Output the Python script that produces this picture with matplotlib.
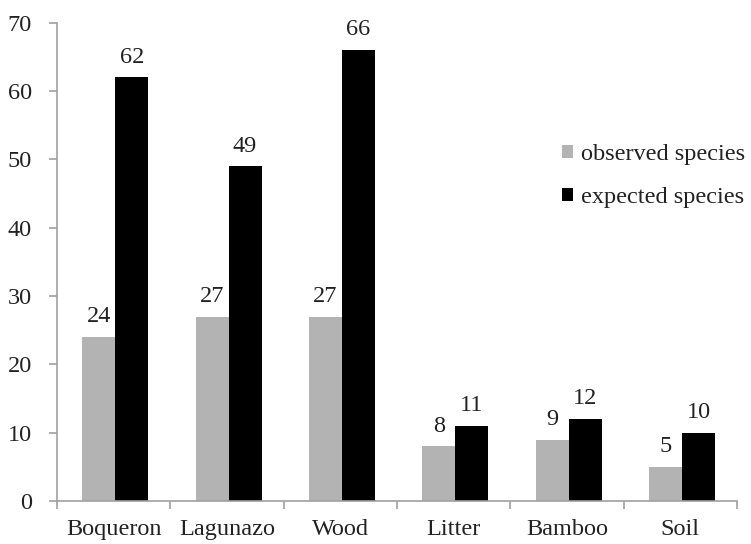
import matplotlib.pyplot as plt
import numpy as np

# data
sites = ['Boqueron', 'Lagunazo', 'Wood', 'Litter', 'Bamboo', 'Soil']
observed = [24, 27, 27, 8, 9, 5]
expected = [62, 49, 66, 11, 12, 10]

plt.rcParams['font.family'] = ['Liberation Serif', 'DejaVu Serif']
fs = 17.5

fig = plt.figure(figsize=(7.51, 5.44), dpi=100)
ax = fig.add_axes([0.0759, 0.079, 0.9054, 0.879])

x = np.arange(len(sites))
w = 0.29
b1 = ax.bar(x - w / 2 + 0.015, observed, w, color='#b3b3b3', label='observed species')
b2 = ax.bar(x + w / 2 + 0.015, expected, w, color='black', label='expected species')

for bars in (b1, b2):
    for r in bars:
        ax.annotate(f'{int(r.get_height())}', (r.get_x() + r.get_width() / 2, r.get_height()),
                    xytext=(0, 7), textcoords='offset points', ha='center', va='bottom',
                    fontsize=fs, color='#222222')

ax.set_xlim(-0.5, len(sites) - 0.5)
ax.set_ylim(0, 70)
ax.set_yticks(range(0, 71, 10))
ax.set_xticks(x)
ax.set_xticklabels(sites, fontsize=fs, color='#222222')
ax.set_xticks(np.arange(-0.5, len(sites)), minor=True)
ax.tick_params(axis='x', which='major', length=0, pad=13)
ax.tick_params(axis='x', which='minor', length=6, color='#a0a0a0', width=1.2)
ax.tick_params(axis='y', length=6, color='#a0a0a0', width=1.2, labelsize=fs,
               labelcolor='#222222', pad=12)

for s in ('top', 'right'):
    ax.spines[s].set_visible(False)
for s in ('left', 'bottom'):
    ax.spines[s].set_color('#a0a0a0')
    ax.spines[s].set_linewidth(1.2)

fig.legend(loc='upper left', bbox_to_anchor=(0.749, 0.735), frameon=False, fontsize=fs,
           borderpad=0, borderaxespad=0, handlelength=0.45, handleheight=0.45,
           handletextpad=0.3, labelspacing=0.9, labelcolor='#222222')

plt.savefig('out.png', dpi=100)
